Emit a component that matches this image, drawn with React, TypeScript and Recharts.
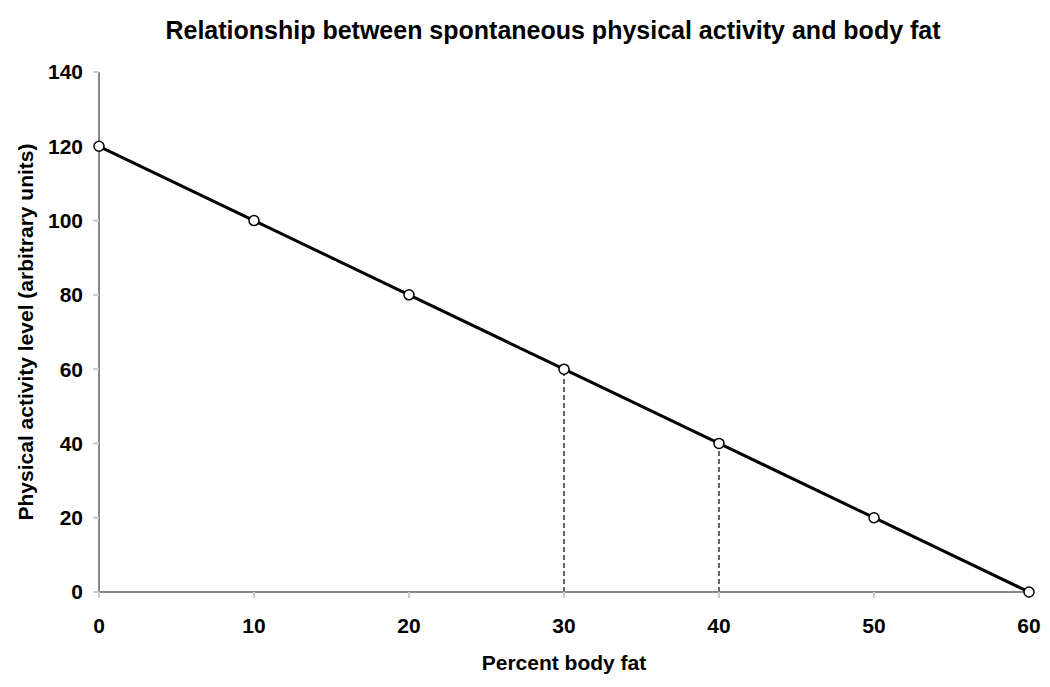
import { LineChart, Line, XAxis, YAxis, Label } from 'recharts';

const bodyFat = [0, 10, 20, 30, 40, 50, 60];
const activity = [120, 100, 80, 60, 40, 20, 0];
const xTicks = [0, 10, 20, 30, 40, 50, 60];
const yTicks = [0, 20, 40, 60, 80, 100, 120, 140];

// dashed drop lines at 30% and 40% body fat
const dropX = [30, 40];
const dropTop = [60, 40];

const mainData = bodyFat.map((x, i) => ({ x, y: activity[i] }));
const drops = dropX.map((x, i) => [
  { x, y: 0 },
  { x, y: dropTop[i] },
]);

const font = 'Arial, "Liberation Sans", sans-serif';
const axisGrey = '#888888';
const textStyle = { fill: '#000', fontFamily: font, fontWeight: 'bold', fontSize: 21 };

const App = () => {
  return (
    <div style={{ position: 'absolute', left: 0, top: 0, width: 1050, height: 687, background: '#fff' }}>
      <div
        style={{
          position: 'absolute',
          top: 15,
          left: 0,
          width: 1106,
          textAlign: 'center',
          fontFamily: font,
          fontWeight: 'bold',
          fontSize: 25,
          lineHeight: '30px',
          color: '#000',
        }}
      >
        Relationship between spontaneous physical activity and body fat
      </div>
      <LineChart
        width={1050}
        height={687}
        margin={{ top: 72, right: 21, bottom: 0, left: 0 }}
      >
        <XAxis
          type='number'
          dataKey='x'
          domain={[0, 60]}
          ticks={xTicks}
          allowDuplicatedCategory={false}
          stroke={axisGrey}
          strokeWidth={2}
          tickSize={6}
          tickMargin={20}
          tickLine={{ stroke: '#cccccc' }}
          tick={textStyle}
          height={95}
        >
          <Label
            value='Percent body fat'
            position='insideBottom'
            offset={17}
            style={textStyle}
          />
        </XAxis>
        <YAxis
          type='number'
          dataKey='y'
          domain={[0, 140]}
          ticks={yTicks}
          stroke={axisGrey}
          strokeWidth={2}
          tickSize={6}
          tickMargin={10}
          tickLine={{ stroke: '#cccccc' }}
          tick={textStyle}
          width={99}
        >
          <Label
            value='Physical activity level (arbitrary units)'
            angle={-90}
            position='insideLeft'
            offset={26}
            style={{ ...textStyle, textAnchor: 'middle' }}
          />
        </YAxis>
        {/* right and top frame */}
        <XAxis
          xAxisId='top'
          orientation='top'
          type='number'
          domain={[0, 60]}
          stroke={axisGrey}
          strokeWidth={2}
          tick={false}
          tickLine={false}
          height={0}
        />
        <YAxis
          yAxisId='right'
          orientation='right'
          type='number'
          domain={[0, 140]}
          stroke={axisGrey}
          strokeWidth={2}
          tick={false}
          tickLine={false}
          width={0}
        />
        {drops.map((d, i) => (
          <Line
            key={i}
            data={d}
            dataKey='y'
            stroke='#000'
            strokeWidth={1.2}
            strokeDasharray='5 3'
            dot={false}
            isAnimationActive={false}
          />
        ))}
        <Line
          data={mainData}
          dataKey='y'
          stroke='#000'
          strokeWidth={3}
          dot={{ r: 5, stroke: '#000', strokeWidth: 1.5, fill: '#fff' }}
          isAnimationActive={false}
        />
      </LineChart>
    </div>
  );
};

export default App;
